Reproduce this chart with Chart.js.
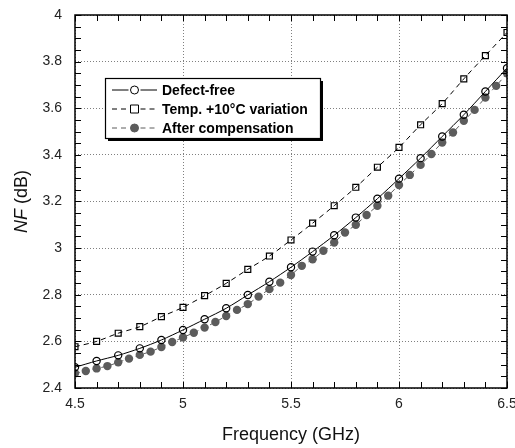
<!DOCTYPE html>
<html>
<head>
<meta charset="utf-8">
<script src="https://cdn.jsdelivr.net/npm/chart.js@4"></script>
<style>
  html, body { margin: 0; padding: 0; background: #fff; }
  #wrap { width: 515px; height: 448px; }
</style>
</head>
<body>
<div id="wrap"><canvas id="myChart" width="515" height="448"></canvas></div>
<script>
const seriesLabels = ["Defect-free", "Temp. +10\u00B0C variation", "After compensation"];

const freqCoarse = [4.5, 4.6, 4.7, 4.8, 4.9, 5.0, 5.1, 5.2, 5.3, 5.4, 5.5,
  5.6, 5.7, 5.8, 5.9, 6.0, 6.1, 6.2, 6.3, 6.4, 6.5];
const defectFree = [2.489, 2.516, 2.54, 2.57, 2.606, 2.649, 2.695, 2.742, 2.799, 2.856, 2.918,
  2.985, 3.055, 3.131, 3.212, 3.298, 3.386, 3.479, 3.572, 3.672, 3.772];
const tempVar = [2.577, 2.60, 2.635, 2.663, 2.706, 2.746, 2.796, 2.849, 2.909, 2.966, 3.035,
  3.107, 3.182, 3.261, 3.347, 3.432, 3.529, 3.62, 3.726, 3.826, 3.925];

const freqFine = [4.5, 4.55, 4.6, 4.65, 4.7, 4.75, 4.8, 4.85, 4.9, 4.95, 5.0, 5.05, 5.1, 5.15,
  5.2, 5.25, 5.3, 5.35, 5.4, 5.45, 5.5, 5.55, 5.6, 5.65, 5.7, 5.75, 5.8, 5.85, 5.9, 5.95,
  6.0, 6.05, 6.1, 6.15, 6.2, 6.25, 6.3, 6.35, 6.4, 6.45, 6.5];
const compensated = [2.463, 2.473, 2.484, 2.494, 2.51, 2.526, 2.542, 2.556, 2.576, 2.597, 2.617,
  2.637, 2.659, 2.683, 2.709, 2.735, 2.76, 2.792, 2.824, 2.852, 2.885, 2.924, 2.952, 2.989,
  3.024, 3.067, 3.10, 3.142, 3.182, 3.225, 3.271, 3.314, 3.357, 3.404, 3.453, 3.496, 3.546,
  3.593, 3.646, 3.696, 3.75];

const xMin = 4.5, xMax = 6.5, xStep = 0.1, xMajor = 0.5;
const yMin = 2.4, yMax = 4.0, yStep = 0.05, yMajor = 0.2;

const gray = "rgb(92, 92, 92)";
const font = "'Liberation Sans', Arial, sans-serif";

function isMajor(v, m) {
  const r = v / m;
  return Math.abs(r - Math.round(r)) < 1e-6;
}
function fmt(v) {
  return String(Math.round(v * 100) / 100);
}
function pts(xs, ys) {
  return xs.map((x, i) => ({ x: x, y: ys[i] }));
}

// frame, inward ticks, y title, legend box
const framePlugin = {
  id: "frame",
  afterDatasetsDraw(chart) {
    const { ctx, chartArea: a, scales } = chart;
    ctx.save();
    ctx.strokeStyle = "#000";
    ctx.lineWidth = 1;
    ctx.beginPath();
    scales.x.ticks.forEach((t) => {
      const px = Math.round(scales.x.getPixelForValue(t.value)) + 0.5;
      ctx.moveTo(px, a.bottom); ctx.lineTo(px, a.bottom - 6);
      ctx.moveTo(px, a.top); ctx.lineTo(px, a.top + 6);
    });
    scales.y.ticks.forEach((t) => {
      const py = Math.round(scales.y.getPixelForValue(t.value)) + 0.5;
      ctx.moveTo(a.left, py); ctx.lineTo(a.left + 6, py);
      ctx.moveTo(a.right, py); ctx.lineTo(a.right - 6, py);
    });
    ctx.stroke();
    ctx.lineWidth = 1.5;
    ctx.strokeRect(a.left, a.top, a.right - a.left, a.bottom - a.top);

    // y axis title: italic NF + (dB)
    ctx.translate(22, (a.top + a.bottom) / 2);
    ctx.rotate(-Math.PI / 2);
    ctx.fillStyle = "#111";
    ctx.textBaseline = "middle";
    ctx.font = "italic 18px " + font;
    const w1 = ctx.measureText("NF").width;
    ctx.font = "18px " + font;
    const w2 = ctx.measureText(" (dB)").width;
    let x0 = -(w1 + w2) / 2;
    ctx.font = "italic 18px " + font;
    ctx.fillText("NF", x0, 0);
    ctx.font = "18px " + font;
    ctx.fillText(" (dB)", x0 + w1, 0);
    ctx.restore();

    // legend box
    const bx = a.left + 30, by = a.top + 63, bw = 215, bh = 60;
    ctx.save();
    ctx.fillStyle = "#000";
    ctx.fillRect(bx + 3, by + 3, bw, bh);
    ctx.fillStyle = "#fff";
    ctx.fillRect(bx, by, bw, bh);
    ctx.strokeStyle = "#000";
    ctx.lineWidth = 1.2;
    ctx.strokeRect(bx + 0.5, by + 0.5, bw, bh);
    chart.data.datasets.forEach((ds, i) => {
      const cy = by + 12 + i * 19;
      const lx0 = bx + 7, lx1 = bx + 52, mx = (lx0 + lx1) / 2;
      ctx.strokeStyle = ds.borderColor;
      ctx.lineWidth = 1;
      ctx.setLineDash(ds.borderDash || []);
      ctx.beginPath();
      ctx.moveTo(lx0, cy); ctx.lineTo(mx - 6, cy);
      ctx.moveTo(mx + 6, cy); ctx.lineTo(lx1, cy);
      ctx.stroke();
      ctx.setLineDash([]);
      ctx.strokeStyle = ds.pointBorderColor;
      ctx.fillStyle = ds.pointBackgroundColor;
      ctx.beginPath();
      if (ds.pointStyle === "rect") {
        ctx.rect(mx - 4, cy - 4, 8, 8);
      } else {
        ctx.arc(mx, cy, 4, 0, Math.PI * 2);
      }
      ctx.fill();
      ctx.stroke();
      ctx.fillStyle = "#000";
      ctx.font = "bold 14px " + font;
      ctx.textBaseline = "middle";
      ctx.fillText(ds.label, bx + 57, cy + 1);
    });
    ctx.restore();
  }
};

const ctx = document.getElementById("myChart");

new Chart(ctx, {
  type: "line",
  data: {
    datasets: [
      {
        label: seriesLabels[0],
        data: pts(freqCoarse, defectFree),
        borderColor: "#000",
        borderWidth: 1,
        pointStyle: "circle",
        pointRadius: 3.6,
        pointBorderWidth: 1.2,
        pointBorderColor: "#000",
        pointBackgroundColor: "rgba(255,255,255,0)",
        tension: 0.3,
        order: 1,
      },
      {
        label: seriesLabels[1],
        data: pts(freqCoarse, tempVar),
        borderColor: "#000",
        borderWidth: 1,
        borderDash: [5, 4],
        pointStyle: "rect",
        pointRadius: 4.2,
        pointBorderWidth: 1.2,
        pointBorderColor: "#000",
        pointBackgroundColor: "rgba(255,255,255,0)",
        tension: 0.3,
        order: 2,
      },
      {
        label: seriesLabels[2],
        data: pts(freqFine, compensated),
        borderColor: gray,
        borderWidth: 1,
        borderDash: [5, 4],
        pointStyle: "circle",
        pointRadius: 4.2,
        pointBorderWidth: 0,
        pointBorderColor: gray,
        pointBackgroundColor: gray,
        tension: 0.3,
        order: 3,
      },
    ],
  },
  options: {
    responsive: false,
    animation: false,
    layout: { autoPadding: false, padding: { top: 15, right: 8, left: 0, bottom: 0 } },
    plugins: {
      legend: { display: false },
      tooltip: { enabled: false },
    },
    scales: {
      x: {
        type: "linear",
        min: xMin,
        max: xMax,
        afterFit: (s) => { s.height = 60; s.paddingLeft = 0; s.paddingRight = 0; },
        ticks: {
          stepSize: xStep,
          autoSkip: false,
          maxRotation: 0,
          padding: 8,
          color: "#222",
          font: { family: font, size: 14 },
          callback: (v) => (isMajor(v - xMin, xMajor) ? fmt(v) : ""),
        },
        grid: {
          drawTicks: false,
          color: (c) => (c.tick && isMajor(c.tick.value - xMin, xMajor) ? "#808080" : "rgba(0,0,0,0)"),
        },
        border: { display: false, dash: [1, 2] },
        title: {
          display: true,
          text: "Frequency (GHz)",
          color: "#111",
          font: { family: font, size: 18 },
          padding: { top: 0, bottom: 2 },
        },
      },
      y: {
        type: "linear",
        min: yMin,
        max: yMax,
        afterFit: (s) => { s.width = 75; s.paddingTop = 0; s.paddingBottom = 0; },
        ticks: {
          stepSize: yStep,
          autoSkip: false,
          padding: 13,
          color: "#222",
          font: { family: font, size: 14 },
          callback: (v) => (isMajor(v - yMin, yMajor) ? fmt(v) : ""),
        },
        grid: {
          drawTicks: false,
          color: (c) => (c.tick && isMajor(c.tick.value - yMin, yMajor) ? "#808080" : "rgba(0,0,0,0)"),
        },
        border: { display: false, dash: [1, 2] },
      },
    },
  },
  plugins: [framePlugin],
});
</script>
</body>
</html>
